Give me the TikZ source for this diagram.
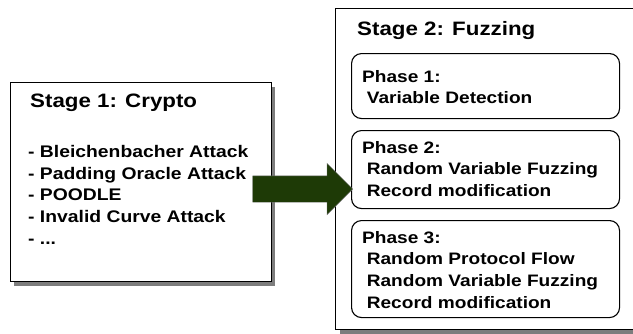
\documentclass[tikz,border=0pt]{standalone}
\usepackage{fontspec}
\usepackage{tikz}
\usetikzlibrary{positioning,shapes.arrows,shadows}
\newfontfamily\diafont[FakeStretch=1.15]{Liberation Sans}
\definecolor{arrowgreen}{RGB}{30,58,6}
\definecolor{shadowgray}{RGB}{125,125,125}
\tikzset{
  stagebox/.style  = {draw, line width=1.2pt, fill=white, anchor=north west, inner sep=0pt,
                      general shadow={shadow xshift=4pt, shadow yshift=-4pt, fill=shadowgray}},
  phasebox/.style  = {draw, line width=1.1pt, rounded corners=10pt, anchor=north west, inner sep=0pt, minimum width=268pt},
  stagetitle/.style= {anchor=base west, inner sep=0pt, font=\diafont\bfseries\fontsize{19.4}{22}\selectfont},
  itemtext/.style  = {anchor=north west, inner sep=0pt, align=left, font=\diafont\bfseries\fontsize{16.8}{21.8}\selectfont},
  phasetext/.style = {anchor=north west, inner sep=0pt, align=left, font=\diafont\bfseries\fontsize{16.6}{21.7}\selectfont},
  bigarrow/.style  = {single arrow, fill=arrowgreen, draw=black!55, line width=0.4pt, inner sep=0pt,
                      text height=26pt, text depth=0pt, minimum height=100pt, single arrow head extend=12.5pt},
}
\newcommand{\ind}{\hspace*{0.28em}}

\begin{document}
\begin{tikzpicture}[x=1pt, y=-1pt]
  \useasboundingbox (0,0) rectangle (633,333);
  % stage 1
  \node[stagebox, minimum width=261pt, minimum height=199pt] (crypto) at (9.5,82) {};
  \node[stagetitle] (cryptotitle) at ([shift={(20.5,25)}]crypto.north west) {Stage 1: Crypto};
  \node[itemtext] (attacks) at ([shift={(18.5,63)}]crypto.north west)
    {- Bleichenbacher Attack\\- Padding Oracle Attack\\- POODLE\\- Invalid Curve Attack\\- ...};
  % stage 2
  \node[stagebox, minimum width=305pt, minimum height=321pt] (fuzz) at (335,8) {};
  \node[stagetitle] (fuzztitle) at ([shift={(22,27)}]fuzz.north west) {Stage 2: Fuzzing};
  \node[phasebox, minimum height=65pt] (ph1) at (351,53) {};
  \node[phasebox, minimum height=78pt] (ph2) at (351,130) {};
  \node[phasebox, minimum height=97pt] (ph3) at (351,220) {};
  \node[phasetext] (ph1text) at ([shift={(11,17)}]ph1.north west)
    {Phase 1:\\\ind Variable Detection};
  \node[phasetext] (ph2text) at ([shift={(11,11)}]ph2.north west)
    {Phase 2:\\\ind Random Variable Fuzzing\\\ind Record modification};
  \node[phasetext] (ph3text) at ([shift={(11,11)}]ph3.north west)
    {Phase 3:\\\ind Random Protocol Flow\\\ind Random Variable Fuzzing\\\ind Record modification};
  % stage 1 -> stage 2
  \node[bigarrow, anchor=tip] (arr) at (353,189) {};
\end{tikzpicture}
\end{document}
